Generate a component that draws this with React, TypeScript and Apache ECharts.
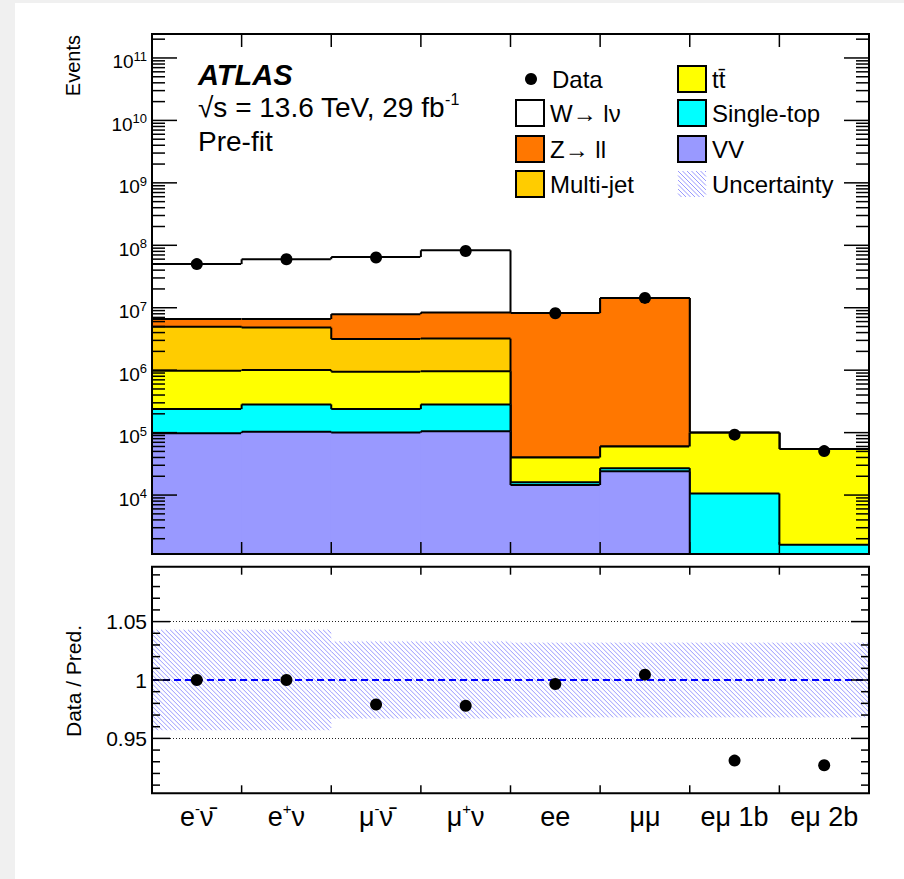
import React, { useEffect, useRef } from "react";
import * as echarts from "echarts";

const FONT = "'Liberation Sans', Arial, Helvetica, sans-serif";

// Analysis regions (one bin each)
const regions = ["e-ν̄", "e+ν", "μ-ν̄", "μ+ν", "ee", "μμ", "eμ 1b", "eμ 2b"];
const regionLabelsRich = [
  "{b|e}{s|-}{b|ν\u0304}",
  "{b|e}{s|+}{b|ν}",
  "{b|μ}{s|-}{b|ν\u0304}",
  "{b|μ}{s|+}{b|ν}",
  "{b|ee}",
  "{b|μμ}",
  "{b|eμ 1b}",
  "{b|eμ 2b}",
];

// Pre-fit predicted yields per region
const vvYield = [9.8e4, 1.03e5, 1.0e5, 1.05e5, 1.45e4, 2.4e4, 0, 0];
const singleTopYield = [1.4e5, 1.8e5, 1.38e5, 1.78e5, 1.5e3, 3.0e3, 1.06e4, 1.6e3];
const ttbarYield = [7.4e5, 7.2e5, 7.1e5, 6.8e5, 2.4e4, 3.3e4, 8.9e4, 5.3e4];
const multijetYield = [4.0e6, 3.8e6, 2.2e6, 2.24e6, 0, 0, 0, 0];
const zllYield = [1.6e6, 1.8e6, 4.75e6, 5.2e6, 8.16e6, 1.424e7, 0, 0];
const wlnuYield = [4.34e7, 5.31e7, 5.71e7, 7.46e7, 0, 0, 0, 0];

// Observed events and ratio to prediction
const dataYield = [5.0e7, 5.97e7, 6.36e7, 8.12e7, 8.17e6, 1.437e7, 9.27e4, 5.06e4];
const dataOverPred = [1.0, 1.0, 0.979, 0.978, 0.9966, 1.0046, 0.931, 0.927];
const relUncertainty = [0.043, 0.043, 0.033, 0.033, 0.032, 0.032, 0.032, 0.032];

// Axis tick labels
const eventTickExponents = [4, 5, 6, 7, 8, 9, 10, 11];
const ratioTickLabels = ["0.95", "1", "1.05"];

const Y_MIN = 1138;
const Y_MAX = 2.42e11;
const R_MIN = 0.903;
const R_MAX = 1.097;

// Stack from bottom to top
const stackOrder = [
  { name: "VV", values: vvYield },
  { name: "Single-top", values: singleTopYield },
  { name: "tt\u0304", values: ttbarYield },
  { name: "Multi-jet", values: multijetYield },
  { name: "Z→ ll", values: zllYield },
  { name: "W→ lν", values: wlnuYield },
];

const fillColors: Record<string, string> = {
  VV: "#9999ff",
  "Single-top": "#00ffff",
  "tt\u0304": "#ffff00",
  "Multi-jet": "#ffcc00",
  "Z→ ll": "#ff7700",
  "W→ lν": "#ffffff",
};

const HATCH_STYLE = { stroke: "#7d7dff", lineWidth: 0.8 };
const HATCH_STEP = 4.5;

function hatchLines(x0: number, y0: number, x1: number, y1: number, step: number, ox: number, oy: number) {
  const out: any[] = [];
  const cMin = x0 - y1;
  const cMax = x1 - y0;
  const base = ox - oy;
  const kStart = Math.ceil((cMin - base) / step);
  const kEnd = Math.floor((cMax - base) / step);
  for (let k = kStart; k <= kEnd; k++) {
    const c = base + k * step;
    const ya = Math.max(y0, x0 - c);
    const yb = Math.min(y1, x1 - c);
    if (yb > ya) {
      out.push({ type: "line", silent: true, shape: { x1: c + ya, y1: ya, x2: c + yb, y2: yb }, style: HATCH_STYLE });
    }
  }
  return out;
}

function buildOption(): any {
  // cumulative stack tops
  const cumulative: number[][] = [];
  stackOrder.forEach((layer, li) => {
    cumulative.push(layer.values.map((v, i) => v + (li > 0 ? cumulative[li - 1][i] : 0)));
  });

  const stackSeries = stackOrder
    .map((layer, li) => ({ layer, cum: cumulative[li] }))
    .reverse()
    .map(({ layer, cum }) => ({
      type: "custom",
      name: layer.name,
      xAxisIndex: 0,
      yAxisIndex: 0,
      clip: true,
      z: 2,
      silent: true,
      encode: { x: 0, y: 1 },
      data: cum.map((v, i) => [i, v, i > 0 ? cum[i - 1] : v]),
      renderItem: (params: any, api: any) => {
        const i = api.value(0);
        const top = Math.max(api.value(1), Y_MIN);
        const prev = Math.max(api.value(2), Y_MIN);
        const p = api.coord([i, top]);
        const yPrev = api.coord([i, prev])[1];
        const w = api.size([1, 0])[0];
        const cs = params.coordSys;
        const yBot = cs.y + cs.height;
        const xL = p[0] - w / 2;
        const xR = p[0] + w / 2;
        const line = { stroke: "#000", lineWidth: 2 };
        return {
          type: "group",
          children: [
            { type: "rect", shape: { x: xL - 0.5, y: p[1], width: w + 1, height: yBot - p[1] }, style: { fill: fillColors[layer.name] } },
            { type: "line", shape: { x1: xL, y1: p[1], x2: xR, y2: p[1] }, style: line },
            { type: "line", shape: { x1: xL, y1: yPrev, x2: xL, y2: p[1] }, style: line },
          ],
        };
      },
    }));

  // log-axis tick positions (1..9 x 10^n)
  const logTicks: { v: number; major: boolean }[] = [];
  for (let e = 3; e <= 11; e++) {
    for (let m = 1; m <= 9; m++) {
      const v = m * Math.pow(10, e);
      if (v >= Y_MIN && v <= Y_MAX) logTicks.push({ v, major: m === 1 });
    }
  }
  const ratioTicks: { v: number; major: boolean }[] = [];
  for (let k = 91; k <= 109; k++) ratioTicks.push({ v: k / 100, major: k % 5 === 0 });

  const tickStyle = { stroke: "#000", lineWidth: 1.5 };

  const frameSeries = (gridIdx: number, ticks: { v: number; major: boolean }[], majorLen: number, minorLen: number, xTickBottom: number, xTickTop: number) => ({
    type: "custom",
    xAxisIndex: gridIdx,
    yAxisIndex: gridIdx,
    z: 20,
    silent: true,
    clip: false,
    encode: { x: 0, y: 1 },
    data: [[0, gridIdx === 0 ? Y_MIN : 1]],
    renderItem: (params: any, api: any) => {
      const cs = params.coordSys;
      const xl = cs.x;
      const xr = cs.x + cs.width;
      const yt = cs.y;
      const yb = cs.y + cs.height;
      const children: any[] = [];
      ticks.forEach((t) => {
        const y = api.coord([0, t.v])[1];
        const len = t.major ? majorLen : minorLen;
        children.push({ type: "line", shape: { x1: xl, y1: y, x2: xl + len, y2: y }, style: tickStyle });
        children.push({ type: "line", shape: { x1: xr, y1: y, x2: xr - len, y2: y }, style: tickStyle });
      });
      const w = api.size([1, 0])[0];
      for (let k = 1; k < regions.length; k++) {
        const x = api.coord([k, gridIdx === 0 ? Y_MIN : 1])[0] - w / 2;
        children.push({ type: "line", shape: { x1: x, y1: yb, x2: x, y2: yb - xTickBottom }, style: tickStyle });
        children.push({ type: "line", shape: { x1: x, y1: yt, x2: x, y2: yt + xTickTop }, style: tickStyle });
      }
      children.push({ type: "rect", shape: { x: xl, y: yt, width: cs.width, height: cs.height }, style: { fill: "none", stroke: "#000", lineWidth: 2 } });
      return { type: "group", children };
    },
  });

  const hatchSeries = {
    type: "custom",
    xAxisIndex: 1,
    yAxisIndex: 1,
    z: 2,
    silent: true,
    clip: true,
    encode: { x: 0, y: 1 },
    data: relUncertainty.map((u, i) => [i, 1 - u, 1 + u]),
    renderItem: (params: any, api: any) => {
      const i = api.value(0);
      const lo = api.coord([i, api.value(1)]);
      const hi = api.coord([i, api.value(2)]);
      const w = api.size([1, 0])[0];
      const cs = params.coordSys;
      return {
        type: "group",
        children: hatchLines(lo[0] - w / 2, hi[1], lo[0] + w / 2, lo[1], HATCH_STEP, cs.x, cs.y),
      };
    },
    markLine: {
      silent: true,
      symbol: "none",
      label: { show: false },
      animation: false,
      data: [
        { yAxis: 1.05, lineStyle: { color: "#222", type: [1, 2], width: 1 } },
        { yAxis: 0.95, lineStyle: { color: "#222", type: [1, 2], width: 1 } },
        { yAxis: 1, lineStyle: { color: "#0000ff", type: [7, 4], width: 2 } },
      ],
    },
  };

  const dot = { color: "#000", opacity: 1 };

  // legend items
  const legendCol1 = [
    { name: "W→ lν", y: 97 },
    { name: "Z→ ll", y: 133 },
    { name: "Multi-jet", y: 168 },
  ];
  const legendCol2 = [
    { name: "tt\u0304", y: 63 },
    { name: "Single-top", y: 97 },
    { name: "VV", y: 133 },
  ];
  const legendText = (text: string, x: number, y: number) => ({
    type: "text",
    x,
    y,
    style: { text, font: `24px ${FONT}`, fill: "#000", align: "left", verticalAlign: "middle" },
  });
  const legendBox = (name: string, x: number, y: number) => ({
    type: "rect",
    shape: { x, y, width: 28, height: 26 },
    style: { fill: fillColors[name], stroke: "#000", lineWidth: 2 },
  });
  const graphics: any[] = [
    { type: "circle", shape: { cx: 516, cy: 76, r: 6 }, style: { fill: "#000" } },
    legendText("Data", 537, 76),
    ...legendCol1.flatMap((it) => [legendBox(it.name, 501, it.y), legendText(it.name, 535, it.y + 13)]),
    ...legendCol2.flatMap((it) => [legendBox(it.name, 663, it.y), legendText(it.name, 697, it.y + 13)]),
    ...hatchLines(663, 168, 691, 194, HATCH_STEP, 663, 168),
    legendText("Uncertainty", 697, 181),
    {
      type: "text",
      x: 183,
      y: 72,
      style: { text: "ATLAS", font: `italic bold 29px ${FONT}`, fill: "#000", verticalAlign: "middle" },
    },
    {
      type: "text",
      x: 183,
      y: 104,
      style: {
        text: "{b|√s = 13.6 TeV, 29 fb}{s|-1}",
        verticalAlign: "middle",
        rich: {
          b: { fontSize: 28, fontFamily: FONT, fill: "#000", lineHeight: 32 },
          s: { fontSize: 16, fontFamily: FONT, fill: "#000", lineHeight: 15, verticalAlign: "top" },
        },
      },
    },
    {
      type: "text",
      x: 183,
      y: 138,
      style: { text: "Pre-fit", font: `28px ${FONT}`, fill: "#000", verticalAlign: "middle" },
    },
    {
      type: "text",
      x: 58,
      y: 32,
      rotation: Math.PI / 2,
      style: { text: "Events", font: `20px ${FONT}`, fill: "#000", align: "right", verticalAlign: "middle" },
    },
    {
      type: "text",
      x: 58,
      y: 734,
      rotation: Math.PI / 2,
      style: { text: "Data / Pred.", font: `21px ${FONT}`, fill: "#000", align: "left", verticalAlign: "middle" },
    },
  ];

  const hiddenAxisParts = { axisLine: { show: false }, axisTick: { show: false }, splitLine: { show: false } };

  return {
    animation: false,
    backgroundColor: "#ffffff",
    grid: [
      { left: 137, top: 31, width: 717, height: 520 },
      { left: 137, top: 563.7, width: 717, height: 226.6 },
    ],
    xAxis: [
      { type: "category", gridIndex: 0, data: regions, ...hiddenAxisParts, axisLabel: { show: false } },
      {
        type: "category",
        gridIndex: 1,
        data: regions,
        ...hiddenAxisParts,
        axisLabel: {
          interval: 0,
          margin: 8,
          formatter: (_v: string, i: number) => regionLabelsRich[i],
          rich: {
            b: { fontSize: 27, fontFamily: FONT, color: "#000", lineHeight: 32 },
            s: { fontSize: 15, fontFamily: FONT, color: "#000", lineHeight: 16, verticalAlign: "top" },
          },
        },
      },
    ],
    yAxis: [
      {
        type: "log",
        gridIndex: 0,
        logBase: 10,
        min: Y_MIN,
        max: Y_MAX,
        splitNumber: 9,
        ...hiddenAxisParts,
        axisLabel: {
          margin: 5,
          padding: [8, 0, 0, 0],
          formatter: (v: number) => {
            const e = Math.round(Math.log10(v));
            if (Math.abs(Math.log10(v) - e) > 1e-6 || !eventTickExponents.includes(e)) return "";
            return `{b|10}{s|${e}}`;
          },
          rich: {
            b: { fontSize: 19, fontFamily: FONT, color: "#000", lineHeight: 24 },
            s: { fontSize: 13, fontFamily: FONT, color: "#000", lineHeight: 12, verticalAlign: "top" },
          },
        },
      },
      {
        type: "value",
        gridIndex: 1,
        min: R_MIN,
        max: R_MAX,
        splitNumber: 4,
        ...hiddenAxisParts,
        axisLabel: {
          margin: 5,
          fontSize: 21,
          fontFamily: FONT,
          color: "#000",
          formatter: (v: number) => ratioTickLabels.find((t) => Math.abs(parseFloat(t) - v) < 1e-6) ?? "",
        },
      },
    ],
    series: [
      ...stackSeries,
      {
        type: "scatter",
        name: "Data",
        xAxisIndex: 0,
        yAxisIndex: 0,
        z: 15,
        symbolSize: 12,
        itemStyle: dot,
        data: dataYield.map((v, i) => [i, v]),
      },
      frameSeries(0, logTicks, 25, 13, 12, 13),
      hatchSeries,
      {
        type: "scatter",
        name: "Data / Pred.",
        xAxisIndex: 1,
        yAxisIndex: 1,
        z: 15,
        symbolSize: 12,
        itemStyle: dot,
        data: dataOverPred.map((v, i) => [i, v]),
      },
      frameSeries(1, ratioTicks, 18, 8, 8, 8),
    ],
    graphic: graphics,
  };
}

export default function App() {
  const ref = useRef<HTMLDivElement>(null);
  useEffect(() => {
    const chart = echarts.init(ref.current!, null, { renderer: "svg" });
    chart.setOption(buildOption());
    return () => chart.dispose();
  }, []);
  return (
    <div style={{ position: "fixed", inset: 0, background: "#f0f0f0" }}>
      <div
        ref={ref}
        style={{ position: "absolute", left: 15, top: 3, width: 889, height: 876, background: "#ffffff" }}
      />
    </div>
  );
}
